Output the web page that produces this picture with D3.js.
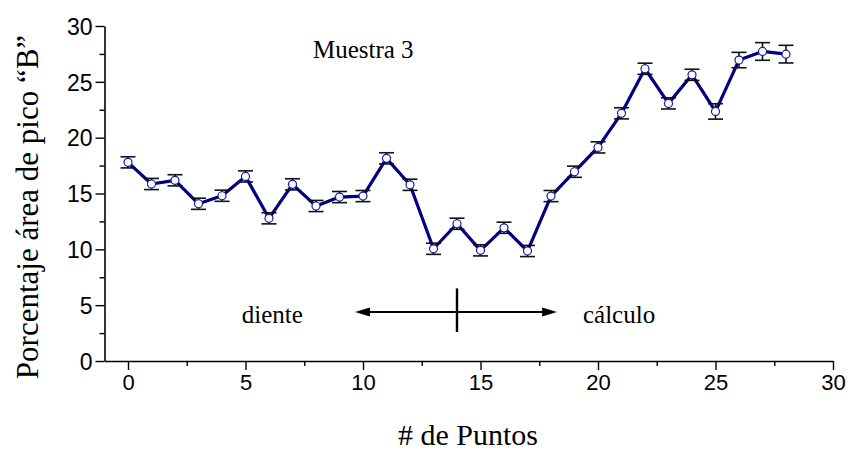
<!DOCTYPE html>
<html>
<head>
<meta charset="utf-8">
<script src="https://cdn.jsdelivr.net/npm/d3@7"></script>
<style>
  html, body { margin: 0; padding: 0; background: #fff; }
  svg { display: block; }
</style>
</head>
<body>
<svg id="chart" width="848" height="453"></svg>
<script>
// ---- data ----
const points = [0,1,2,3,4,5,6,7,8,9,10,11,12,13,14,15,16,17,18,19,20,21,22,23,24,25,26,27,28];
const values = [17.79,15.85,16.18,14.08,14.80,16.53,12.78,15.82,13.88,14.68,14.77,18.15,15.78,10.05,12.29,9.91,11.93,9.85,14.77,16.95,19.13,22.18,26.17,23.07,25.63,22.35,26.95,27.72,27.48];
const errors = [0.5,0.5,0.5,0.5,0.5,0.5,0.5,0.5,0.5,0.5,0.5,0.5,0.5,0.5,0.5,0.5,0.5,0.5,0.5,0.5,0.5,0.5,0.5,0.5,0.5,0.69,0.69,0.79,0.79];
const xTicks = [0,5,10,15,20,25,30];
const yTicks = [0,5,10,15,20,25,30];
const xMinor = [2.5,7.5,12.5,17.5,22.5,27.5];
const yMinor = [2.5,7.5,12.5,17.5,22.5,27.5];
const title = "Muestra 3";
const xLabel = "# de Puntos";
const yLabel = "Porcentaje área de pico “B”";
const leftText = "diente";
const rightText = "cálculo";

const svg = d3.select("#chart");
const x = d3.scaleLinear().domain([-1, 30]).range([104.5, 833]);
const y = d3.scaleLinear().domain([0, 30]).range([361, 26]);

const serif = "'Liberation Serif', 'Times New Roman', serif";
const sans = "'Liberation Sans', Arial, sans-serif";

// ---- axes ----
const xAxis = svg.append("g").attr("transform", `translate(0,${y(0)})`)
  .call(d3.axisBottom(x).tickValues(xTicks).tickSize(9).tickPadding(4).tickSizeOuter(0));
const xAxisMinor = svg.append("g").attr("transform", `translate(0,${y(0)})`)
  .call(d3.axisBottom(x).tickValues(xMinor).tickSize(5).tickFormat("").tickSizeOuter(0));
const yAxis = svg.append("g").attr("transform", `translate(${x(-1)},0)`)
  .call(d3.axisLeft(y).tickValues(yTicks).tickSize(9).tickPadding(3).tickSizeOuter(0));
const yAxisMinor = svg.append("g").attr("transform", `translate(${x(-1)},0)`)
  .call(d3.axisLeft(y).tickValues(yMinor).tickSize(5).tickFormat("").tickSizeOuter(0));

[xAxis, xAxisMinor, yAxis, yAxisMinor].forEach(g => {
  g.select(".domain").attr("stroke", "#000").attr("stroke-width", 1.6);
  g.selectAll(".tick line").attr("stroke", "#000").attr("stroke-width", 1.4);
  g.selectAll(".tick text").attr("fill", "#000").style("font-family", sans).style("font-size", "22px");
});
yAxis.selectAll(".tick text").style("font-size", "23px").attr("dy", "0.36em");
xAxisMinor.select(".domain").remove();
yAxisMinor.select(".domain").remove();

// ---- line ----
const data = points.map((p, i) => ({ p, v: values[i], e: errors[i] }));
svg.append("path")
  .datum(data)
  .attr("fill", "none")
  .attr("stroke", "#000080")
  .attr("stroke-width", 3.2)
  .attr("stroke-linejoin", "round")
  .attr("d", d3.line().x(d => x(d.p)).y(d => y(d.v)));

// ---- error bars ----
const eb = svg.append("g").attr("stroke", "#111").attr("stroke-width", 1.6);
data.forEach(d => {
  const cx = x(d.p);
  eb.append("line").attr("x1", cx).attr("x2", cx).attr("y1", y(d.v - d.e)).attr("y2", y(d.v + d.e));
  eb.append("line").attr("x1", cx - 7.5).attr("x2", cx + 7.5).attr("y1", y(d.v + d.e)).attr("y2", y(d.v + d.e));
  eb.append("line").attr("x1", cx - 7.5).attr("x2", cx + 7.5).attr("y1", y(d.v - d.e)).attr("y2", y(d.v - d.e));
});

// ---- markers ----
svg.append("g").selectAll("circle").data(data).join("circle")
  .attr("cx", d => x(d.p)).attr("cy", d => y(d.v)).attr("r", 4)
  .attr("fill", "#fff").attr("stroke", "#1a1aa0").attr("stroke-width", 1.2);

// ---- annotations ----
svg.append("text").attr("x", x(7.87)).attr("y", y(27.15))
  .style("font-family", serif).style("font-size", "25px").attr("fill", "#000").text(title);

svg.append("text").attr("x", x(4.84)).attr("y", y(3.4))
  .style("font-family", serif).style("font-size", "25px").attr("fill", "#000").text(leftText);
svg.append("text").attr("x", x(19.36)).attr("y", y(3.4))
  .style("font-family", serif).style("font-size", "25px").attr("fill", "#000").text(rightText);

// arrow
const ay = y(4.39), ax1 = x(9.66), ax2 = x(18.26);
svg.append("line").attr("x1", ax1 + 8).attr("x2", ax2 - 8).attr("y1", ay).attr("y2", ay)
  .attr("stroke", "#000").attr("stroke-width", 2);
svg.append("path").attr("d", `M${ax1},${ay} L${ax1 + 15},${ay - 4.5} L${ax1 + 15},${ay + 4.5} Z`).attr("fill", "#000");
svg.append("path").attr("d", `M${ax2},${ay} L${ax2 - 15},${ay - 4.5} L${ax2 - 15},${ay + 4.5} Z`).attr("fill", "#000");
svg.append("line").attr("x1", x(14)).attr("x2", x(14)).attr("y1", y(6.5)).attr("y2", y(2.6))
  .attr("stroke", "#000").attr("stroke-width", 2.4);

// ---- axis titles ----
svg.append("text").attr("x", 468).attr("y", 445).attr("text-anchor", "middle")
  .style("font-family", serif).style("font-size", "30px").attr("fill", "#000").text(xLabel);
svg.append("text").attr("transform", "translate(38,207) rotate(-90)").attr("text-anchor", "middle")
  .style("font-family", serif).style("font-size", "31px").attr("fill", "#000").text(yLabel);
</script>
</body>
</html>
